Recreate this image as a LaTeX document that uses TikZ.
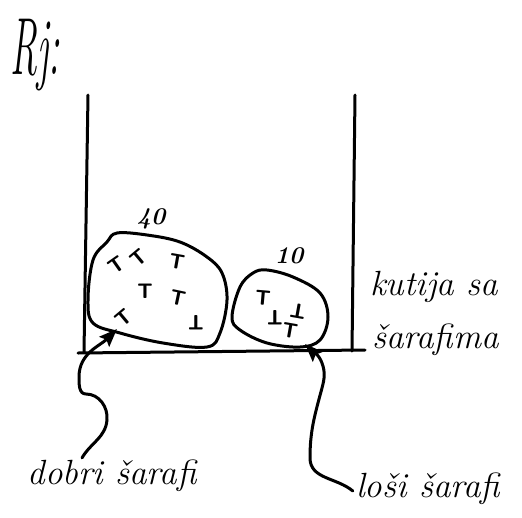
\documentclass[tikz,border=0pt]{standalone}
\usepackage{fontspec}
\usetikzlibrary{arrows.meta,calc}
\begin{document}
\begin{tikzpicture}[x=1pt,y=-1pt, line cap=round, line join=round,
  ink/.style={line width=3pt, black},
  hand/.style={font=\itshape\fontsize{35}{38}\selectfont\addfontfeatures{LetterSpace=5}, inner sep=0pt},
  num/.style={font=\itshape\bfseries\fontsize{24}{26}\selectfont, inner sep=0pt},
  screw/.style={font=\sffamily\bfseries\fontsize{21}{21}\selectfont, inner sep=0pt},
  pointer/.style={ink, -{Stealth[length=18pt,width=14pt,inset=3pt]}}]
\useasboundingbox[fill=white] (0,0) rectangle (522,517);

\node[font=\itshape\fontsize{54}{56}\selectfont, inner sep=0pt, anchor=base west] (rj) at (10,74) {\scalebox{0.7}[1.5]{Rj:}};

% box
\draw[ink] (88,95) -- (84,352);
\draw[ink] (355,95) -- (352,351);
\draw[ink] (78,353) -- (365,350);

% big blob
\draw[ink] plot[smooth cycle, tension=0.6] coordinates {
  (117,233) (147,235) (180,242) (207,257) (222,273) (227,300) (220,333)
  (207,347) (163,343) (120,333) (93,323) (88,300) (93,260) (107,242)};
% small blob
\draw[ink] plot[smooth cycle, tension=0.6] coordinates {
  (267,270) (293,277) (320,293) (328,317) (320,340) (300,347) (267,343)
  (240,330) (232,317) (240,287) (253,273)};

\node[num] (n40) at (151,219) {40};
\node[num] (n10) at (289,256) {10};

% screws in big blob
\node[screw, rotate=35] (s1) at (117,265) {T};
\node[screw, rotate=40] (s2) at (139,258) {T};
\node[screw, rotate=-10] (s3) at (177,262) {T};
\node[screw] (s4) at (145,291) {T};
\node[screw, rotate=-12] (s5) at (178,298) {T};
\node[screw, rotate=180] (s6) at (196,323) {T};
\node[screw, rotate=40] (s7) at (124,318) {T};
% screws in small blob
\node[screw, rotate=-5] (s8) at (263,298) {T};
\node[screw, rotate=180] (s9) at (275,318) {T};
\node[screw, rotate=170] (s10) at (298,311) {T};
\node[screw, rotate=-10] (s11) at (290,331) {T};

% box label
\node[hand, anchor=west] (kut1) at (370,287) {kutija sa};
\node[hand, anchor=west] (kut2) at (372,340) {šarafima};

% labels
\node[hand] (dobri) at (112,476) {dobri šarafi};
\node[hand] (losi) at (428,489) {loši šarafi};

\coordinate (bigin) at (117,329);
\coordinate (smallin) at (305,344);

\draw[pointer] ($(dobri.north)+(-30,-2)$) to[out=60,in=-95] (107,420)
  to[out=85,in=0] (86,394) to[out=180,in=-90] (79,377)
  to[out=90,in=225] (bigin);
\draw[pointer] ($(losi.west)+(-3,2)$) to[out=140,in=-90] (310,458)
  to[out=90,in=-105] (322,388) to[out=75,in=-70] (322,363)
  to[out=110,in=-45] (smallin);
\end{tikzpicture}
\end{document}
